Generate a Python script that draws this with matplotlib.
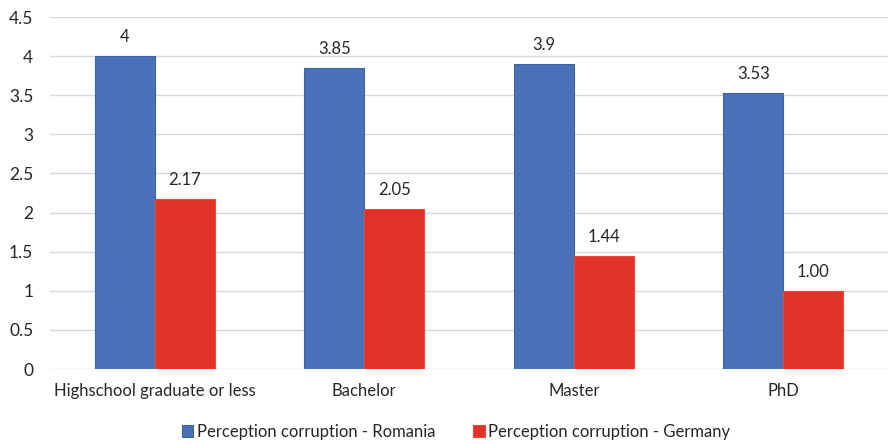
import matplotlib
matplotlib.use("Agg")
import matplotlib.pyplot as plt
import numpy as np

categories = ["Highschool graduate or less", "Bachelor", "Master", "PhD"]
romania = [4, 3.85, 3.9, 3.53]
germany = [2.17, 2.05, 1.44, 1.00]
romania_labels = ["4", "3.85", "3.9", "3.53"]
germany_labels = ["2.17", "2.05", "1.44", "1.00"]
yticks = [0, 0.5, 1, 1.5, 2, 2.5, 3, 3.5, 4, 4.5]
ytick_labels = ["0", "0.5", "1", "1.5", "2", "2.5", "3", "3.5", "4", "4.5"]

plt.rcParams["font.family"] = ["Lato", "DejaVu Sans"]

fig = plt.figure(figsize=(8.89, 4.43), dpi=100)
ax = fig.add_axes([50 / 889, 1 - 369 / 443, 838 / 889, 352 / 443])

x = np.arange(len(categories))
w = 0.287
blue = "#4A71B7"
red = "#E03226"
b1 = ax.bar(x - w / 2, romania, w, color=blue, edgecolor="#3E63A3", linewidth=0.8,
            label="Perception corruption - Romania", zorder=3)
b2 = ax.bar(x + w / 2, germany, w, color=red, edgecolor="#E8493E", linewidth=0.8,
            label="Perception corruption - Germany", zorder=3)

for bars, labels in ((b1, romania_labels), (b2, germany_labels)):
    for rect, lab in zip(bars, labels):
        ax.annotate(lab, (rect.get_x() + rect.get_width() / 2, rect.get_height()),
                    xytext=(0, 8), textcoords="offset points", ha="center", va="bottom",
                    fontsize=12, color="#262626")

ax.set_xlim(-0.5, 3.5)
ax.set_ylim(0, 4.5)
ax.set_yticks(yticks)
ax.set_yticklabels(ytick_labels, fontsize=12.5, color="#262626")
ax.set_xticks(x)
ax.set_xticklabels(categories, fontsize=12, color="#262626")
ax.tick_params(axis="y", length=0, pad=12)
ax.tick_params(axis="x", length=0, pad=10)
ax.grid(axis="y", color="#D9D9D9", linewidth=1, zorder=0)
for s in ax.spines.values():
    s.set_visible(False)

fig.legend(handles=[b1, b2], loc="center", bbox_to_anchor=(0.513, 1 - 432 / 443),
           ncol=2, frameon=False, fontsize=12, handlelength=0.7, handleheight=0.7,
           handletextpad=0.2, columnspacing=2.3, labelcolor="#262626")

fig.savefig("out.png", dpi=100)
